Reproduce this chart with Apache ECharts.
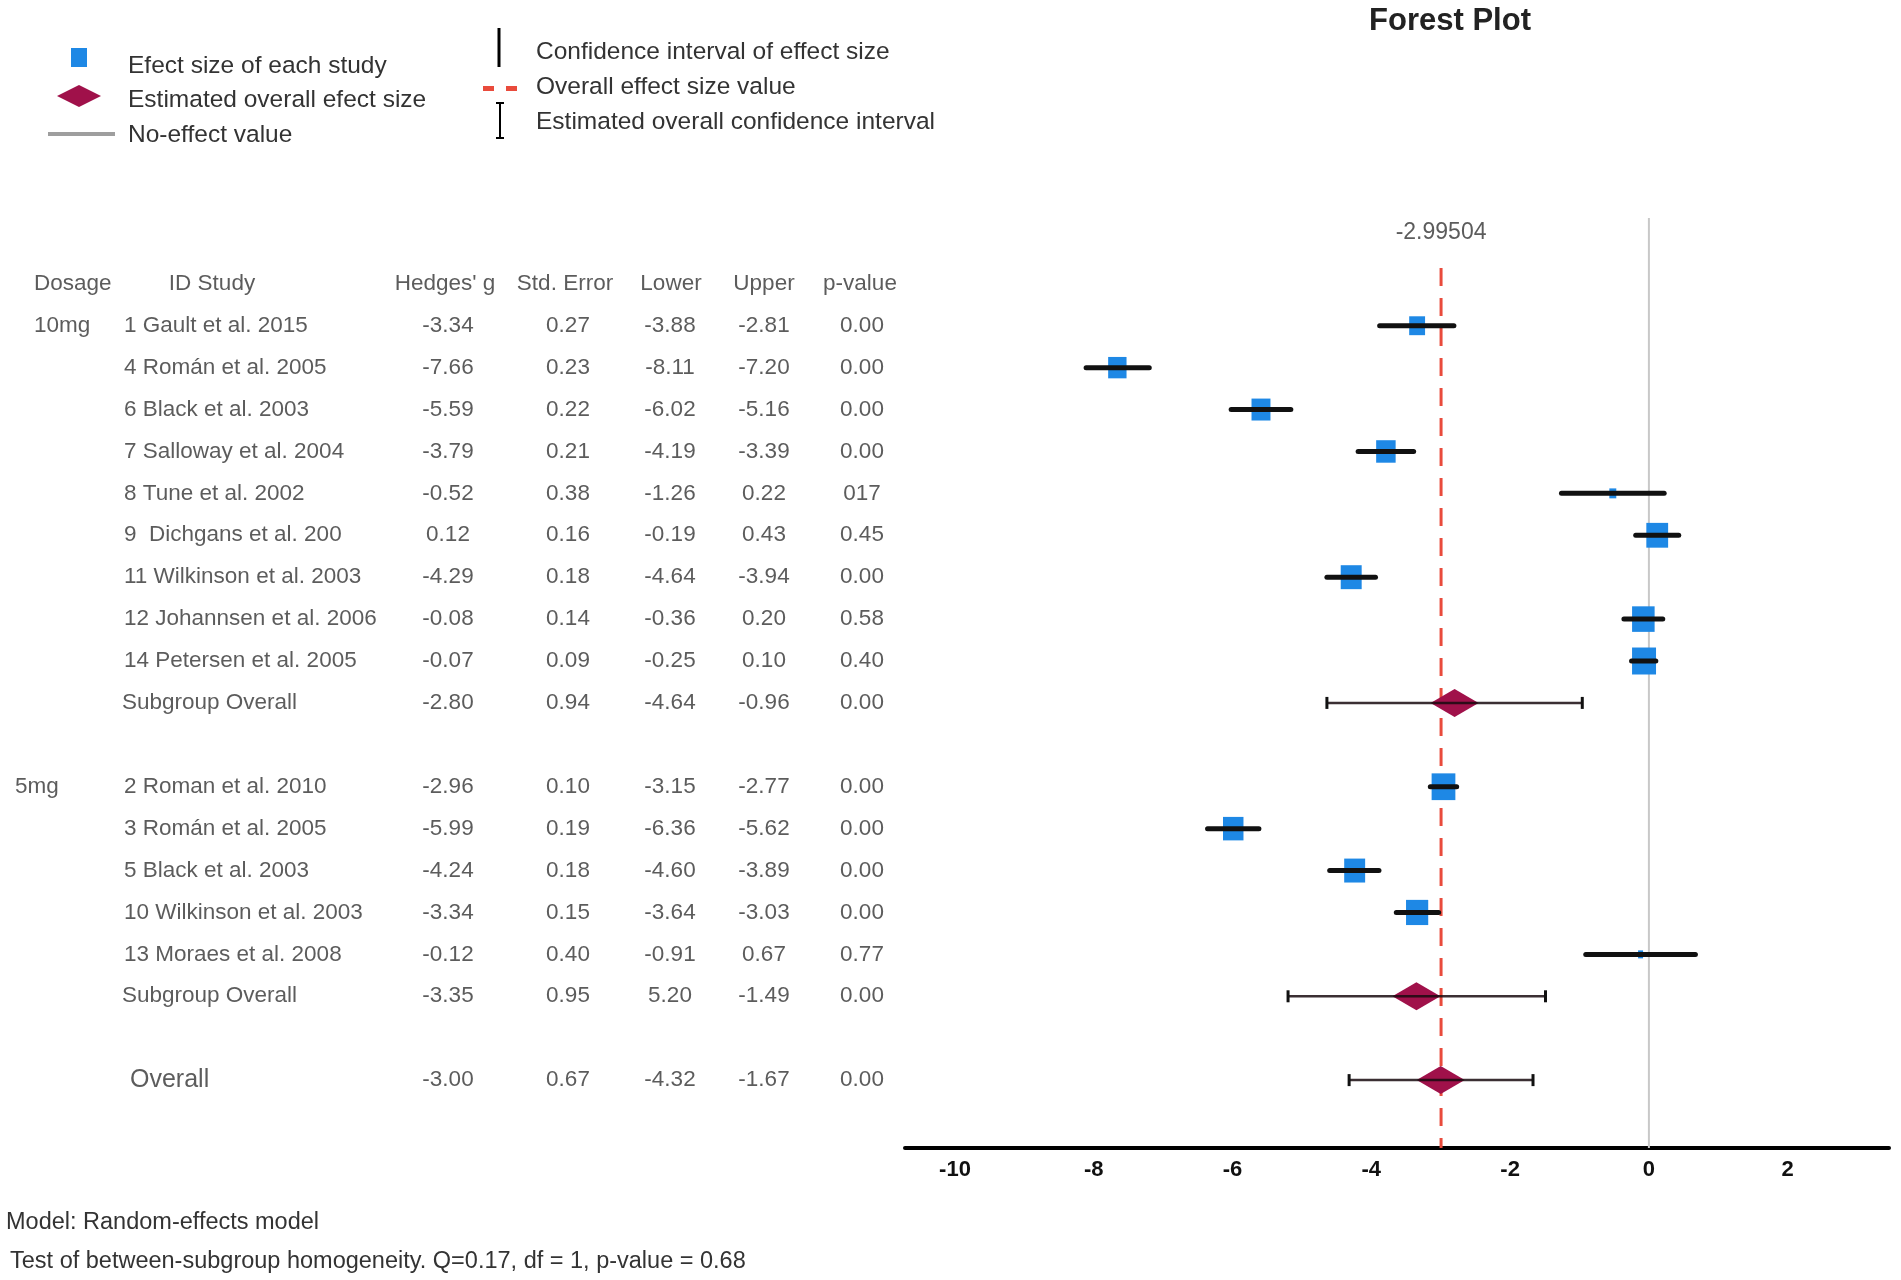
<!DOCTYPE html>
<html>
<head>
<meta charset="utf-8">
<title>Forest Plot</title>
<script src="https://cdn.jsdelivr.net/npm/echarts@6/dist/echarts.min.js"></script>
<style>
  html, body { margin: 0; padding: 0; background: #fff; }
  #main { width: 1901px; height: 1280px; }
</style>
</head>
<body>
<div id="main"></div>
<script>
// ---- data ----
var groupNames = ['10mg', '5mg'];
var groupSizes = [9, 5];
var studyNames = ['1 Gault et al. 2015', '4 Román et al. 2005', '6 Black et al. 2003', '7 Salloway et al. 2004',
	'8 Tune et al. 2002', '9  Dichgans et al. 200', '11 Wilkinson et al. 2003', '12 Johannsen et al. 2006',
	'14 Petersen et al. 2005', '2 Roman et al. 2010', '3 Román et al. 2005', '5 Black et al. 2003',
	'10 Wilkinson et al. 2003', '13 Moraes et al. 2008'];
var hedgesG = [-3.34, -7.66, -5.59, -3.79, -0.52, 0.12, -4.29, -0.08, -0.07, -2.96, -5.99, -4.24, -3.34, -0.12];
var stdError = [0.27, 0.23, 0.22, 0.21, 0.38, 0.16, 0.18, 0.14, 0.09, 0.10, 0.19, 0.18, 0.15, 0.40];
var lowerCI = [-3.88, -8.11, -6.02, -4.19, -1.26, -0.19, -4.64, -0.36, -0.25, -3.15, -6.36, -4.60, -3.64, -0.91];
var upperCI = [-2.81, -7.20, -5.16, -3.39, 0.22, 0.43, -3.94, 0.20, 0.10, -2.77, -5.62, -3.89, -3.03, 0.67];
var pValues = ['0.00', '0.00', '0.00', '0.00', '017', '0.45', '0.00', '0.58', '0.40', '0.00', '0.00', '0.00', '0.00', '0.77'];

var summaryNames = ['Subgroup Overall', 'Subgroup Overall', 'Overall'];
var summaryG = [-2.80, -3.35, -3.00];
var summarySE = [0.94, 0.95, 0.67];
var summaryLower = [-4.64, -5.20, -4.32];
var summaryLowerText = ['-4.64', '5.20', '-4.32'];
var summaryUpper = [-0.96, -1.49, -1.67];
var summaryP = ['0.00', '0.00', '0.00'];

var overallEffect = -2.99504;
var headers = ['Dosage', 'ID Study', "Hedges' g", 'Std. Error', 'Lower', 'Upper', 'p-value'];
var tickValues = [-10, -8, -6, -4, -2, 0, 2];

// ---- layout ----
var FONT = '"Liberation Sans", Arial, sans-serif';
var TXT = '#333';
var BLUE = '#1e88e5';
var MAROON = '#a0114a';
var headerX = [34, 212, 445, 565, 671, 764, 860];
var headerAlign = ['left', 'center', 'center', 'center', 'center', 'center', 'center'];
var dosageX = [34, 15];
var nameX = 124, gX = 448, seX = 568, loX = 670, upX = 764, pX = 862;

// rows: each group is its studies + a subgroup line, then a blank row; overall last
var studyRows = [], summaryRows = [], dosageRows = [];
(function () {
	var r = 0;
	for (var g = 0; g < groupSizes.length; g++) {
		dosageRows.push(r);
		for (var j = 0; j < groupSizes[g]; j++) { studyRows.push(r); r++; }
		summaryRows.push(r);
		r += 2;
	}
	summaryRows.push(r);
})();

var studyData = hedgesG.map(function (g, i) {
	return [g, lowerCI[i], upperCI[i], studyRows[i], stdError[i]];
});
var summaryData = summaryG.map(function (g, i) {
	return [g, summaryLower[i], summaryUpper[i], summaryRows[i]];
});

// table text cells
function cells() {
	var out = [];
	headers.forEach(function (h, i) { out.push({ value: [headerX[i], -1, h], label: { align: headerAlign[i] } }); });
	groupNames.forEach(function (d, i) { out.push({ value: [dosageX[i], dosageRows[i], d], label: { align: 'left' } }); });
	studyNames.forEach(function (n, i) {
		var r = studyRows[i];
		out.push({ value: [nameX, r, n], label: { align: 'left' } });
		out.push({ value: [gX, r, hedgesG[i].toFixed(2)] });
		out.push({ value: [seX, r, stdError[i].toFixed(2)] });
		out.push({ value: [loX, r, lowerCI[i].toFixed(2)] });
		out.push({ value: [upX, r, upperCI[i].toFixed(2)] });
		out.push({ value: [pX, r, pValues[i]] });
	});
	summaryNames.forEach(function (n, i) {
		var r = summaryRows[i];
		var last = i === summaryNames.length - 1;
		out.push({ value: [last ? 130 : 122, r, n], label: { align: 'left', fontSize: last ? 25 : 22.5 } });
		out.push({ value: [gX, r, summaryG[i].toFixed(2)] });
		out.push({ value: [seX, r, summarySE[i].toFixed(2)] });
		out.push({ value: [loX, r, summaryLowerText[i]] });
		out.push({ value: [upX, r, summaryUpper[i].toFixed(2)] });
		out.push({ value: [pX, r, summaryP[i]] });
	});
	return out;
}

var yMin = -3, yMax = 19.62;
var gridTop = 200, gridHeight = 948;

var myChart = echarts.init(document.getElementById('main'));
myChart.setOption({
	animation: false,
	backgroundColor: '#fff',
	textStyle: { fontFamily: FONT },
	grid: [
		{ left: 905, width: 984, top: gridTop, height: gridHeight, outerBoundsMode: 'none' },
		{ left: 0, width: 905, top: gridTop, height: gridHeight, outerBoundsMode: 'none' }
	],
	xAxis: [{
		type: 'value',
		gridIndex: 0,
		min: -10.72,
		max: 3.46,
		axisLine: { show: true, onZero: false, lineStyle: { color: '#000', width: 4 } },
		axisTick: { show: false },
		splitLine: { show: false },
		axisLabel: {
			customValues: tickValues,
			fontWeight: 'bold',
			fontSize: 22,
			color: '#111',
			margin: 11,
			fontFamily: FONT
		}
	}, {
		type: 'value',
		gridIndex: 1,
		min: 0,
		max: 905,
		show: false
	}],
	yAxis: [{
		type: 'value', gridIndex: 0, inverse: true, min: yMin, max: yMax, show: false
	}, {
		type: 'value', gridIndex: 1, inverse: true, min: yMin, max: yMax, show: false
	}],
	series: [{
		// no-effect line
		type: 'line',
		xAxisIndex: 0, yAxisIndex: 0,
		data: [[0, -2.57], [0, yMax]],
		showSymbol: false,
		lineStyle: { color: '#c8c8c8', width: 2 },
		z: 1
	}, {
		// overall effect line
		type: 'line',
		xAxisIndex: 0, yAxisIndex: 0,
		data: [[overallEffect, -1.38], [overallEffect, yMax]],
		showSymbol: false,
		lineStyle: { color: '#e94b3c', width: 3, type: [18, 12] },
		z: 2
	}, {
		type: 'scatter',
		xAxisIndex: 0, yAxisIndex: 0,
		data: [[overallEffect, -2.22]],
		symbolSize: 1,
		itemStyle: { color: 'rgba(0,0,0,0)' },
		label: {
			show: true, position: 'inside', color: TXT, fontSize: 23, fontFamily: FONT,
			formatter: function () { return String(overallEffect); }
		}
	}, {
		// studies
		type: 'custom',
		xAxisIndex: 0, yAxisIndex: 0,
		data: studyData,
		clip: false,
		z: 5,
		renderItem: function (params, api) {
			var c = api.coord([api.value(0), api.value(3)]);
			var l = api.coord([api.value(1), api.value(3)]);
			var u = api.coord([api.value(2), api.value(3)]);
			var se = api.value(4);
			var w = 25 - 125 * se * se, h = w + 3;
			return {
				type: 'group',
				children: [{
					type: 'rect',
					shape: { x: c[0] - w / 2, y: c[1] - h / 2, width: w, height: h },
					style: { fill: BLUE }
				}, {
					type: 'line',
					shape: { x1: l[0], y1: l[1], x2: u[0], y2: u[1] },
					style: { stroke: '#111', lineWidth: 5, lineCap: 'round' }
				}]
			};
		}
	}, {
		// subgroup / overall summaries
		type: 'custom',
		xAxisIndex: 0, yAxisIndex: 0,
		data: summaryData,
		clip: false,
		z: 6,
		renderItem: function (params, api) {
			var c = api.coord([api.value(0), api.value(3)]);
			var l = api.coord([api.value(1), api.value(3)]);
			var u = api.coord([api.value(2), api.value(3)]);
			var hw = 24, hh = 14, cap = 6;
			return {
				type: 'group',
				children: [{
					type: 'polygon',
					shape: { points: [[c[0] - hw, c[1]], [c[0], c[1] - hh], [c[0] + hw, c[1]], [c[0], c[1] + hh]] },
					style: { fill: MAROON }
				}, {
					type: 'line',
					shape: { x1: l[0], y1: l[1], x2: u[0], y2: u[1] },
					style: { stroke: 'rgba(25,10,15,0.85)', lineWidth: 2.5 }
				}, {
					type: 'line',
					shape: { x1: l[0], y1: l[1] - cap, x2: l[0], y2: l[1] + cap },
					style: { stroke: '#111', lineWidth: 3 }
				}, {
					type: 'line',
					shape: { x1: u[0], y1: u[1] - cap, x2: u[0], y2: u[1] + cap },
					style: { stroke: '#111', lineWidth: 3 }
				}]
			};
		}
	}, {
		// table
		type: 'scatter',
		xAxisIndex: 1, yAxisIndex: 1,
		data: cells(),
		symbolSize: 1,
		itemStyle: { color: 'rgba(0,0,0,0)' },
		label: {
			show: true,
			position: 'inside',
			align: 'center',
			verticalAlign: 'middle',
			color: TXT,
			fontSize: 22.5,
			fontFamily: FONT,
			formatter: function (p) { return p.value[2]; }
		}
	}],
	graphic: [
		{ type: 'text', x: 1450, y: 21, style: { text: 'Forest Plot', font: 'bold 31px ' + FONT, fill: '#222', textAlign: 'center', textVerticalAlign: 'middle' } },
		// legend, left column
		{ type: 'rect', shape: { x: 71, y: 48, width: 16, height: 19 }, style: { fill: BLUE } },
		{ type: 'polygon', shape: { points: [[57, 96], [79, 85], [101, 96], [79, 107]] }, style: { fill: MAROON } },
		{ type: 'line', shape: { x1: 48, y1: 134, x2: 115, y2: 134 }, style: { stroke: '#9e9e9e', lineWidth: 4 } },
		{ type: 'text', x: 128, y: 66, style: { text: 'Efect size of each study', font: '24.5px ' + FONT, fill: TXT, textVerticalAlign: 'middle' } },
		{ type: 'text', x: 128, y: 100, style: { text: 'Estimated overall efect size', font: '24.5px ' + FONT, fill: TXT, textVerticalAlign: 'middle' } },
		{ type: 'text', x: 128, y: 135, style: { text: 'No-effect value', font: '24.5px ' + FONT, fill: TXT, textVerticalAlign: 'middle' } },
		// legend, right column
		{ type: 'line', shape: { x1: 499, y1: 28, x2: 499, y2: 67 }, style: { stroke: '#000', lineWidth: 3 } },
		{ type: 'rect', shape: { x: 483, y: 86, width: 11, height: 5 }, style: { fill: '#e94b3c' } },
		{ type: 'rect', shape: { x: 506, y: 86, width: 11, height: 5 }, style: { fill: '#e94b3c' } },
		{ type: 'line', shape: { x1: 500, y1: 103, x2: 500, y2: 138 }, style: { stroke: '#000', lineWidth: 2 } },
		{ type: 'line', shape: { x1: 496, y1: 103, x2: 504, y2: 103 }, style: { stroke: '#000', lineWidth: 2 } },
		{ type: 'line', shape: { x1: 496, y1: 138, x2: 504, y2: 138 }, style: { stroke: '#000', lineWidth: 2 } },
		{ type: 'text', x: 536, y: 52, style: { text: 'Confidence interval of effect size', font: '24.5px ' + FONT, fill: TXT, textVerticalAlign: 'middle' } },
		{ type: 'text', x: 536, y: 87, style: { text: 'Overall effect size value', font: '24.5px ' + FONT, fill: TXT, textVerticalAlign: 'middle' } },
		{ type: 'text', x: 536, y: 122, style: { text: 'Estimated overall confidence interval', font: '24.5px ' + FONT, fill: TXT, textVerticalAlign: 'middle' } },
		// footer
		{ type: 'text', x: 6, y: 1223, style: { text: 'Model: Random-effects model', font: '23.5px ' + FONT, fill: TXT, textVerticalAlign: 'middle' } },
		{ type: 'text', x: 10, y: 1262, style: { text: 'Test of between-subgroup homogeneity. Q=0.17, df = 1, p-value = 0.68', font: '23.5px ' + FONT, fill: TXT, textVerticalAlign: 'middle' } }
	]
});
</script>
</body>
</html>
